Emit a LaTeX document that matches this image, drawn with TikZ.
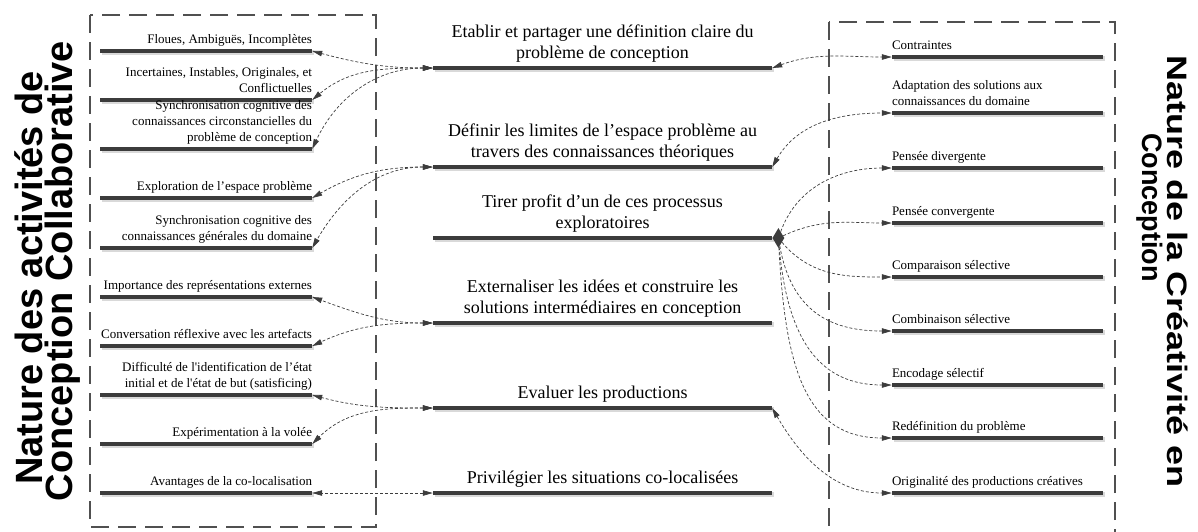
\documentclass[tikz,border=0pt]{standalone}
\usepackage{fontspec}
\setmainfont{Liberation Serif}[Ligatures=TeXOff]
\newfontfamily\titlefont{Liberation Sans}
\usepackage{tikz}
\usetikzlibrary{arrows.meta,shadows,shapes.geometric,positioning}
\definecolor{barcol}{HTML}{3C3C3C}
\definecolor{boxcol}{HTML}{505050}

\begin{document}
\begin{tikzpicture}[x=1pt, y=1pt, >={Triangle[length=10pt, width=5.5pt]},
	bar/.style={fill=barcol, minimum height=4.8pt, inner sep=0pt, drop shadow={shadow xshift=1.5pt, shadow yshift=-1.5pt, fill=black!15, opacity=1}},
	lbar/.style={bar, minimum width=212pt},
	cbar/.style={bar, minimum width=339pt},
	rbar/.style={bar, minimum width=211pt},
	small/.style={font=\fontsize{13}{16}\selectfont, inner sep=0pt, execute at end node=\strut},
	ltxt/.style={small, align=right, anchor=south east},
	rtxt/.style={small, align=left, anchor=south west},
	ctxt/.style={font=\fontsize{18}{21.6}\selectfont, inner sep=0pt, align=center, anchor=south, execute at end node=\strut},
	conn/.style={draw=barcol, line width=0.7pt, dash pattern=on 3pt off 2pt, <->},
	grpbox/.style={draw=boxcol, line width=2.4pt, dash pattern=on 18pt off 9pt},
	ltitle/.style={font=\titlefont\bfseries\fontsize{38}{30}\selectfont, inner sep=0pt, rotate=90, anchor=base},
	rtitle/.style={font=\titlefont\bfseries\fontsize{36}{28}\selectfont, inner sep=0pt, rotate=-90, anchor=base west}
]
	\useasboundingbox (0,0) rectangle (1198,-531);
	\clip (0,0) rectangle (1198,-531);

	\draw[grpbox] (90,-15) rectangle (376,-527);
	\draw[grpbox] (829,-22) rectangle (1115,-560);

	\node[ltitle] (ltA) at (42,-278) {Nature des activités de};
	\node[ltitle] (ltB) at (72,-271) {Conception Collaborative};
	\node[rtitle] (rtA) at (1167,-55) {\scalebox{1}[0.78]{Nature de la Créativité en}};
	\node[rtitle] (rtB) at (1142,-133) {\scalebox{0.75}[0.78]{Conception}};

	% activites de conception collaborative
	\node[lbar] (l1) at (206,-51) {};
	\node[lbar] (l2) at (206,-100) {};
	\node[lbar] (l3) at (206,-149) {};
	\node[lbar] (l4) at (206,-198) {};
	\node[lbar] (l5) at (206,-248) {};
	\node[lbar] (l6) at (206,-297) {};
	\node[lbar] (l7) at (206,-346) {};
	\node[lbar] (l8) at (206,-395) {};
	\node[lbar] (l9) at (206,-444) {};
	\node[lbar] (l10) at (206,-493) {};
	\node[ltxt] (lt1) at (l1.north east) {Floues, Ambiguës, Incomplètes};
	\node[ltxt] (lt2) at (l2.north east) {Incertaines, Instables, Originales, et\\Conflictuelles};
	\node[ltxt] (lt3) at (l3.north east) {Synchronisation cognitive des\\connaissances circonstancielles du\\problème de conception};
	\node[ltxt] (lt4) at (l4.north east) {Exploration de l’espace problème};
	\node[ltxt] (lt5) at (l5.north east) {Synchronisation cognitive des\\connaissances générales du domaine};
	\node[ltxt] (lt6) at (l6.north east) {Importance des représentations externes};
	\node[ltxt] (lt7) at (l7.north east) {Conversation réflexive avec les artefacts};
	\node[ltxt] (lt8) at (l8.north east) {Difficulté de l'identification de l’état\\initial et de l'état de but (satisficing)};
	\node[ltxt] (lt9) at (l9.north east) {Expérimentation à la volée};
	\node[ltxt] (lt10) at (l10.north east) {Avantages de la co-localisation};

	% processus
	\node[cbar] (c1) at (602.5,-68) {};
	\node[cbar] (c2) at (602.5,-167) {};
	\node[cbar] (c3) at (602.5,-238) {};
	\node[cbar] (c4) at (602.5,-323) {};
	\node[cbar] (c5) at (602.5,-408) {};
	\node[cbar] (c6) at (602.5,-493) {};
	\node[ctxt] (ct1) at (c1.north) {Etablir et partager une définition claire du\\problème de conception};
	\node[ctxt] (ct2) at (c2.north) {Définir les limites de l’espace problème au\\travers des connaissances théoriques};
	\node[ctxt] (ct3) at (c3.north) {Tirer profit d’un de ces processus\\exploratoires};
	\node[ctxt] (ct4) at (c4.north) {Externaliser les idées et construire les\\solutions intermédiaires en conception};
	\node[ctxt] (ct5) at (c5.north) {Evaluer les productions};
	\node[ctxt] (ct6) at (c6.north) {Privilégier les situations co-localisées};
	\node[diamond, fill=barcol, minimum width=12pt, minimum height=20pt, inner sep=0pt, right=0pt of c3] (dm) {};

	% creativite en conception
	\node[rbar] (r1) at (997.5,-57) {};
	\node[rbar] (r2) at (997.5,-113) {};
	\node[rbar] (r3) at (997.5,-168) {};
	\node[rbar] (r4) at (997.5,-223) {};
	\node[rbar] (r5) at (997.5,-277) {};
	\node[rbar] (r6) at (997.5,-331) {};
	\node[rbar] (r7) at (997.5,-385) {};
	\node[rbar] (r8) at (997.5,-438) {};
	\node[rbar] (r9) at (997.5,-493) {};
	\node[rtxt] (rt1) at (r1.north west) {Contraintes};
	\node[rtxt] (rt2) at (r2.north west) {Adaptation des solutions aux\\connaissances du domaine};
	\node[rtxt] (rt3) at (r3.north west) {Pensée divergente};
	\node[rtxt] (rt4) at (r4.north west) {Pensée convergente};
	\node[rtxt] (rt5) at (r5.north west) {Comparaison sélective};
	\node[rtxt] (rt6) at (r6.north west) {Combinaison sélective};
	\node[rtxt] (rt7) at (r7.north west) {Encodage sélectif};
	\node[rtxt] (rt8) at (r8.north west) {Redéfinition du problème};
	\node[rtxt] (rt9) at (r9.north west) {Originalité des productions créatives};

	\draw[conn] (c1.west) to[out=180, in=-15] (l1.east);
	\draw[conn] (c1.west) to[out=180, in=40] (l2.east);
	\draw[conn] (c1.west) to[out=180, in=65] (l3.east);
	\draw[conn] (c2.west) to[out=180, in=30] (l4.east);
	\draw[conn] (c2.west) to[out=180, in=60] (l5.east);
	\draw[conn] (c4.west) to[out=180, in=-20] (l6.east);
	\draw[conn] (c4.west) to[out=180, in=25] (l7.east);
	\draw[conn] (c5.west) to[out=180, in=-15] (l8.east);
	\draw[conn] (c5.west) to[out=180, in=45] (l9.east);
	\draw[conn] (c6.west) -- (l10.east);

	\draw[conn] (c1.east) to[out=20, in=180] (r1.west);
	\draw[conn] (c2.east) to[out=60, in=180] (r2.west);
	\draw[conn, ->] (dm) to[out=70, in=180] (r3.west);
	\draw[conn, ->] (dm) to[out=25, in=180] (r4.west);
	\draw[conn, ->] (dm) to[out=-50, in=180] (r5.west);
	\draw[conn, ->] (dm) to[out=-80, in=180, out looseness=1.3] (r6.west);
	\draw[conn, ->] (dm) to[out=-85, in=180, out looseness=1.4] (r7.west);
	\draw[conn, ->] (dm) to[out=-87, in=180, out looseness=1.4] (r8.west);
	\draw[conn] (c5.east) to[out=-60, in=180] (r9.west);
\end{tikzpicture}
\end{document}
